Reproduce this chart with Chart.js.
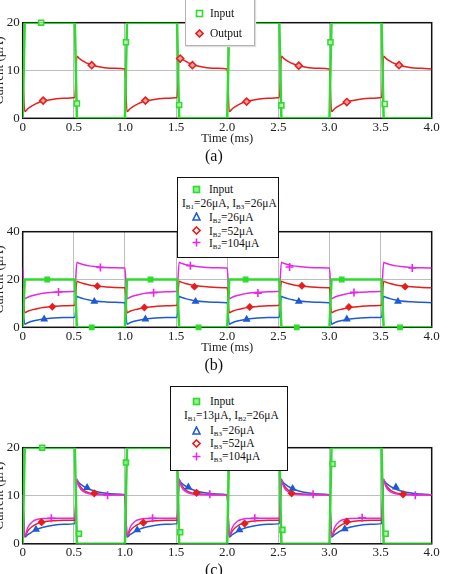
<!DOCTYPE html>
<html>
<head>
<meta charset="utf-8">
<script src="https://cdn.jsdelivr.net/npm/chart.js@4.4.1/dist/chart.umd.min.js"></script>
<style>
  body { margin: 0; background: #fff; width: 456px; height: 574px; overflow: hidden; position: relative; font-family: "Liberation Serif", serif; }
  canvas { position: absolute; left: -4px; }
  .leg { position: absolute; background: #fff; box-sizing: border-box; font-size: 11.5px; color: #111; }
  .leg .row { position: absolute; white-space: nowrap; line-height: 12px; height: 12px; }
  .leg svg { position: absolute; }
  sub { font-size: 7px; vertical-align: -2px; }
</style>
</head>
<body>
<canvas id="chartA" width="460" height="166" style="top:0px"></canvas>
<canvas id="chartB" width="460" height="175" style="top:200px"></canvas>
<canvas id="chartC" width="460" height="180" style="top:400px"></canvas>

<!-- legend (a) -->
<div class="leg" style="left:185px; top:-3px; width:70px; height:49px; border:1.5px solid #b4b4b4; box-shadow:1px 1px 1px #ddd;">
  <svg style="left:9px; top:11px" width="9" height="9"><rect x="1.5" y="1.5" width="6" height="6" fill="none" stroke="#2ddc2d" stroke-width="1.6"/></svg>
  <div class="row" style="left:24px; top:9px">Input</div>
  <svg style="left:9px; top:31px" width="9" height="9"><polygon points="4.5,1 8,4.5 4.5,8 1,4.5" fill="#f6b0b0" stroke="#e61e1e" stroke-width="1.6"/></svg>
  <div class="row" style="left:24px; top:29px">Output</div>
</div>

<!-- legend (b) -->
<div class="leg" style="left:177px; top:177px; width:102px; height:81px; border:1.5px solid #111;">
  <svg style="left:14px; top:7px" width="9" height="9"><rect x="1.5" y="1.5" width="6" height="6" fill="#8ef08e" stroke="#2ddc2d" stroke-width="1.6"/></svg>
  <div class="row" style="left:31px; top:5px">Input</div>
  <div class="row" style="left:4px; top:19px">I<sub>B1</sub>=26μA, I<sub>B3</sub>=26μA</div>
  <svg style="left:14px; top:34px" width="9" height="9"><polygon points="4.5,1 8,8 1,8" fill="none" stroke="#1e5ad7" stroke-width="1.6"/></svg>
  <div class="row" style="left:31px; top:33px">I<sub>B2</sub>=26μA</div>
  <svg style="left:14px; top:48px" width="9" height="9"><polygon points="4.5,1 8,4.5 4.5,8 1,4.5" fill="none" stroke="#e61e1e" stroke-width="1.6"/></svg>
  <div class="row" style="left:31px; top:47px">I<sub>B2</sub>=52μA</div>
  <svg style="left:14px; top:60px" width="9" height="9"><path d="M4.5 0.5V8.5M0.5 4.5H8.5" stroke="#e628e6" stroke-width="1.6"/></svg>
  <div class="row" style="left:31px; top:59px">I<sub>B2</sub>=104μA</div>
</div>

<!-- legend (c) -->
<div class="leg" style="left:170px; top:386px; width:118px; height:85px; border:1.5px solid #111;">
  <svg style="left:21px; top:10px" width="9" height="9"><rect x="1.5" y="1.5" width="6" height="6" fill="#8ef08e" stroke="#2ddc2d" stroke-width="1.6"/></svg>
  <div class="row" style="left:39px; top:8px">Input</div>
  <div class="row" style="left:13px; top:22px">I<sub>B1</sub>=13μA, I<sub>B2</sub>=26μA</div>
  <svg style="left:21px; top:39px" width="9" height="9"><polygon points="4.5,1 8,8 1,8" fill="none" stroke="#1e5ad7" stroke-width="1.6"/></svg>
  <div class="row" style="left:39px; top:37px">I<sub>B3</sub>=26μA</div>
  <svg style="left:21px; top:52px" width="9" height="9"><polygon points="4.5,1 8,4.5 4.5,8 1,4.5" fill="none" stroke="#e61e1e" stroke-width="1.6"/></svg>
  <div class="row" style="left:39px; top:50px">I<sub>B3</sub>=52μA</div>
  <svg style="left:21px; top:65px" width="9" height="9"><path d="M4.5 0.5V8.5M0.5 4.5H8.5" stroke="#e628e6" stroke-width="1.6"/></svg>
  <div class="row" style="left:39px; top:63px">I<sub>B3</sub>=104μA</div>
</div>

<script>
// time axis (ms) shared by every curve
var times = [
  0, 0.02, 0.05, 0.1, 0.15, 0.2, 0.3, 0.4, 0.51, 0.53, 0.55, 0.6, 0.65, 0.7, 0.8, 0.9,
  1.0, 1.02, 1.05, 1.1, 1.15, 1.2, 1.3, 1.4, 1.51, 1.53, 1.55, 1.6, 1.65, 1.7, 1.8, 1.9,
  2.0, 2.02, 2.05, 2.1, 2.15, 2.2, 2.3, 2.4, 2.51, 2.53, 2.55, 2.6, 2.65, 2.7, 2.8, 2.9,
  3.0, 3.02, 3.05, 3.1, 3.15, 3.2, 3.3, 3.4, 3.51, 3.53, 3.55, 3.6, 3.65, 3.7, 3.8, 3.9,
  4.0
];

// input square wave (uA), same in all three panels
var inputWave = [
  0, 20, 20, 20, 20, 20, 20, 20, 20, 0, 0, 0, 0, 0, 0, 0,
  0, 20, 20, 20, 20, 20, 20, 20, 20, 0, 0, 0, 0, 0, 0, 0,
  0, 20, 20, 20, 20, 20, 20, 20, 20, 0, 0, 0, 0, 0, 0, 0,
  0, 20, 20, 20, 20, 20, 20, 20, 20, 0, 0, 0, 0, 0, 0, 0,
  0
];

// (a) output current
var outA = [
  10.3, 1.4, 2.0, 2.7, 3.25, 3.6, 4.0, 4.2, 4.35, 13.0, 12.6, 11.85, 11.35, 11.0, 10.6, 10.45,
  10.3, 1.4, 2.0, 2.7, 3.25, 3.6, 4.0, 4.2, 4.35, 13.0, 12.6, 11.85, 11.35, 11.0, 10.6, 10.45,
  10.3, 1.4, 2.0, 2.7, 3.25, 3.6, 4.0, 4.2, 4.35, 13.0, 12.6, 11.85, 11.35, 11.0, 10.6, 10.45,
  10.3, 1.4, 2.0, 2.7, 3.25, 3.6, 4.0, 4.2, 4.35, 13.0, 12.6, 11.85, 11.35, 11.0, 10.6, 10.45,
  10.3
];

// (b) IB2 = 26 / 52 / 104 uA
var outB26 = [
  10.3, 1.3, 1.9, 2.6, 3.1, 3.45, 3.85, 4.05, 4.2, 13.0, 12.6, 11.9, 11.4, 11.0, 10.65, 10.45,
  10.3, 1.3, 1.9, 2.6, 3.1, 3.45, 3.85, 4.05, 4.2, 13.0, 12.6, 11.9, 11.4, 11.0, 10.65, 10.45,
  10.3, 1.3, 1.9, 2.6, 3.1, 3.45, 3.85, 4.05, 4.2, 13.0, 12.6, 11.9, 11.4, 11.0, 10.65, 10.45,
  10.3, 1.3, 1.9, 2.6, 3.1, 3.45, 3.85, 4.05, 4.2, 13.0, 12.6, 11.9, 11.4, 11.0, 10.65, 10.45,
  10.3
];
var outB52 = [
  16.5, 6.1, 6.7, 7.4, 7.9, 8.3, 8.75, 9.0, 9.2, 19.3, 18.9, 18.2, 17.7, 17.35, 16.95, 16.7,
  16.5, 6.1, 6.7, 7.4, 7.9, 8.3, 8.75, 9.0, 9.2, 19.3, 18.9, 18.2, 17.7, 17.35, 16.95, 16.7,
  16.5, 6.1, 6.7, 7.4, 7.9, 8.3, 8.75, 9.0, 9.2, 19.3, 18.9, 18.2, 17.7, 17.35, 16.95, 16.7,
  16.5, 6.1, 6.7, 7.4, 7.9, 8.3, 8.75, 9.0, 9.2, 19.3, 18.9, 18.2, 17.7, 17.35, 16.95, 16.7,
  16.5
];
var outB104 = [
  24.8, 12.0, 12.6, 13.3, 13.8, 14.2, 14.65, 14.9, 15.1, 27.2, 26.8, 26.2, 25.7, 25.4, 25.05, 24.9,
  24.8, 12.0, 12.6, 13.3, 13.8, 14.2, 14.65, 14.9, 15.1, 27.2, 26.8, 26.2, 25.7, 25.4, 25.05, 24.9,
  24.8, 12.0, 12.6, 13.3, 13.8, 14.2, 14.65, 14.9, 15.1, 27.2, 26.8, 26.2, 25.7, 25.4, 25.05, 24.9,
  24.8, 12.0, 12.6, 13.3, 13.8, 14.2, 14.65, 14.9, 15.1, 27.2, 26.8, 26.2, 25.7, 25.4, 25.05, 24.9,
  24.8
];

// (c) IB3 = 26 / 52 / 104 uA
var outC26 = [
  10.2, 1.4, 1.9, 2.6, 3.1, 3.45, 3.85, 4.05, 4.2, 13.2, 12.7, 11.9, 11.35, 11.0, 10.55, 10.35,
  10.2, 1.4, 1.9, 2.6, 3.1, 3.45, 3.85, 4.05, 4.2, 13.2, 12.7, 11.9, 11.35, 11.0, 10.55, 10.35,
  10.2, 1.4, 1.9, 2.6, 3.1, 3.45, 3.85, 4.05, 4.2, 13.2, 12.7, 11.9, 11.35, 11.0, 10.55, 10.35,
  10.2, 1.4, 1.9, 2.6, 3.1, 3.45, 3.85, 4.05, 4.2, 13.2, 12.7, 11.9, 11.35, 11.0, 10.55, 10.35,
  10.2
];
var outC52 = [
  10.2, 1.5, 2.7, 3.7, 4.25, 4.55, 4.8, 4.9, 4.9, 13.3, 12.3, 11.1, 10.6, 10.4, 10.25, 10.2,
  10.2, 1.5, 2.7, 3.7, 4.25, 4.55, 4.8, 4.9, 4.9, 13.3, 12.3, 11.1, 10.6, 10.4, 10.25, 10.2,
  10.2, 1.5, 2.7, 3.7, 4.25, 4.55, 4.8, 4.9, 4.9, 13.3, 12.3, 11.1, 10.6, 10.4, 10.25, 10.2,
  10.2, 1.5, 2.7, 3.7, 4.25, 4.55, 4.8, 4.9, 4.9, 13.3, 12.3, 11.1, 10.6, 10.4, 10.25, 10.2,
  10.2
];
var outC104 = [
  10.2, 1.6, 3.4, 4.7, 5.1, 5.25, 5.3, 5.3, 5.3, 13.5, 12.0, 10.8, 10.4, 10.25, 10.2, 10.2,
  10.2, 1.6, 3.4, 4.7, 5.1, 5.25, 5.3, 5.3, 5.3, 13.5, 12.0, 10.8, 10.4, 10.25, 10.2, 10.2,
  10.2, 1.6, 3.4, 4.7, 5.1, 5.25, 5.3, 5.3, 5.3, 13.5, 12.0, 10.8, 10.4, 10.25, 10.2, 10.2,
  10.2, 1.6, 3.4, 4.7, 5.1, 5.25, 5.3, 5.3, 5.3, 13.5, 12.0, 10.8, 10.4, 10.25, 10.2, 10.2,
  10.2
];

// marker positions [time, current]
var mkAIn = [[0.18, 20], [0.53, 3.1], [1.01, 15.9], [1.53, 2.8], [2.53, 2.7], [3.01, 15.9], [3.54, 3.0]];
var mkAOut = [[0.2, 3.7], [0.675, 11.1], [1.2, 3.7], [1.54, 12.5], [1.66, 11.1], [2.19, 3.5], [2.7, 11.0], [3.17, 3.4], [3.68, 11.1]];

var mkBIn = [[0.24, 20], [0.675, 0], [1.25, 20], [1.72, 0], [2.18, 20], [2.68, 0], [3.12, 20], [3.69, 0]];
var mkB26 = [[0.21, 3.4], [0.70, 10.8], [1.20, 3.4], [1.69, 10.8], [2.19, 3.3], [2.70, 10.8], [3.17, 3.4], [3.67, 10.8]];
var mkB52 = [[0.29, 8.6], [0.73, 17.2], [1.19, 8.3], [1.68, 17.0], [2.22, 8.5], [2.73, 17.4], [3.19, 8.5], [3.74, 17.0]];
var mkB104 = [[0.35, 14.8], [0.76, 25.0], [1.28, 14.5], [1.64, 25.8], [2.30, 14.3], [2.61, 25.2], [3.24, 14.6], [3.81, 24.8]];

var mkCIn = [[0.19, 20], [0.55, 2.1], [1.01, 16.9], [1.54, 2.4], [2.54, 2.9], [3.03, 16.6], [3.55, 2.1]];
var mkC26 = [[0.13, 3.0], [0.63, 11.7], [1.12, 2.9], [1.62, 11.8], [2.12, 2.9], [2.64, 11.5], [3.15, 3.1], [3.65, 11.8]];
var mkC52 = [[0.185, 4.5], [0.70, 10.5], [1.18, 4.4], [1.70, 10.6], [2.17, 4.2], [2.63, 10.5], [3.17, 4.6], [3.72, 10.3]];
var mkC104 = [[0.28, 5.3], [0.83, 10.1], [1.27, 5.3], [1.83, 10.3], [2.27, 5.3], [2.84, 10.3], [3.32, 5.4], [3.84, 10.1]];

var GREEN = '#2ddc2d', RED = '#e61e1e', BLUE = '#1e5ad7', MAGENTA = '#e628e6';
var FONT = 'Liberation Serif';

function curve(ys) {
  return times.map(function (t, i) { return { x: t, y: ys[i] }; });
}
function marks(list) {
  return list.map(function (p) { return { x: p[0], y: p[1] }; });
}

// black box round the plot area, drawn under the curves
var framePlugin = {
  id: 'frame',
  beforeDatasetsDraw: function (chart) {
    var a = chart.chartArea, ctx = chart.ctx;
    ctx.save();
    ctx.strokeStyle = '#111';
    ctx.lineWidth = 1.5;
    ctx.strokeRect(a.left, a.top, a.right - a.left, a.bottom - a.top);
    ctx.restore();
  }
};

function lineSet(ys, color, width, smooth) {
  return {
    data: curve(ys), borderColor: color, borderWidth: width,
    pointRadius: 0, fill: false,
    tension: 0, cubicInterpolationMode: smooth ? 'monotone' : 'default'
  };
}
function markSet(list, color, style, fill, r) {
  return {
    data: marks(list), showLine: false, clip: false,
    pointStyle: style, pointRadius: r, pointBorderWidth: 1.6,
    pointBorderColor: color, pointBackgroundColor: fill
  };
}

function makePanel(id, padTop, yMax, yStep, datasets, showXTitle, xHeight, caption) {
  var ctx = document.getElementById(id).getContext('2d');
  return new Chart(ctx, {
    type: 'line',
    data: { datasets: datasets },
    options: {
      responsive: false,
      animation: false,
      devicePixelRatio: 1,
      layout: { padding: { top: padTop, right: 24.3, left: 0, bottom: 0 } },
      plugins: {
        legend: { display: false },
        tooltip: { enabled: false },
        title: {
          display: true, position: 'bottom', text: caption, color: '#111',
          font: { family: FONT, size: 16, weight: 'normal' },
          padding: { top: 1, bottom: 0 }
        }
      },
      scales: {
        x: {
          type: 'linear', min: 0, max: 4,
          afterFit: function (s) { s.height = xHeight; },
          ticks: {
            stepSize: 0.5, autoSkip: false, maxRotation: 0, padding: 1,
            color: '#222', font: { family: FONT, size: 13 },
            callback: function (v) { return v === 0 ? '0' : v.toFixed(1); }
          },
          grid: { color: '#bdbdbd', lineWidth: 1, drawTicks: false },
          border: { display: false },
          title: {
            display: showXTitle, text: 'Time (ms)', color: '#222',
            font: { family: FONT, size: 12.5, lineHeight: 1 }, padding: { top: 0, bottom: 1 }
          }
        },
        y: {
          min: 0, max: yMax,
          afterFit: function (s) { s.width = 26.7; },
          ticks: {
            stepSize: yStep, padding: 3,
            color: '#222', font: { family: FONT, size: 13 }
          },
          grid: { color: '#bdbdbd', lineWidth: 1, drawTicks: false },
          border: { display: false },
          title: {
            display: true, text: 'Current (μA)', color: '#222',
            font: { family: FONT, size: 13, lineHeight: 1 }, padding: { top: -3, bottom: 0 }
          }
        }
      }
    },
    plugins: [framePlugin]
  });
}

// (a) input / output
makePanel('chartA', 22.7, 20, 10, [
  markSet(mkAIn, GREEN, 'rect', 'rgba(255,255,255,0.6)', 3.5),
  markSet(mkAOut, RED, 'rectRot', '#f6a0a0', 3.5),
  lineSet(inputWave, GREEN, 2.5, false),
  lineSet(outA, RED, 1.5, true)
], true, 27.5, '(a)');

// (b) varying IB2
makePanel('chartB', 31.7, 40, 20, [
  markSet(mkBIn, GREEN, 'rect', GREEN, 3),
  markSet(mkB26, BLUE, 'triangle', BLUE, 3),
  markSet(mkB52, RED, 'rectRot', RED, 2.8),
  markSet(mkB104, MAGENTA, 'cross', MAGENTA, 4),
  lineSet(inputWave, GREEN, 2.5, false),
  lineSet(outB104, MAGENTA, 1.5, true),
  lineSet(outB52, RED, 1.5, true),
  lineSet(outB26, BLUE, 1.5, true)
], true, 27.5, '(b)');

// (c) varying IB3
makePanel('chartC', 47.7, 20, 10, [
  markSet(mkCIn, GREEN, 'rect', 'rgba(150,240,150,0.7)', 3.5),
  markSet(mkC26, BLUE, 'triangle', BLUE, 3),
  markSet(mkC52, RED, 'rectRot', RED, 3),
  markSet(mkC104, MAGENTA, 'cross', MAGENTA, 4),
  lineSet(inputWave, GREEN, 2.5, false),
  lineSet(outC104, MAGENTA, 1.5, true),
  lineSet(outC52, RED, 1.5, true),
  lineSet(outC26, BLUE, 1.5, true)
], false, 16, '(c)');
</script>
</body>
</html>
